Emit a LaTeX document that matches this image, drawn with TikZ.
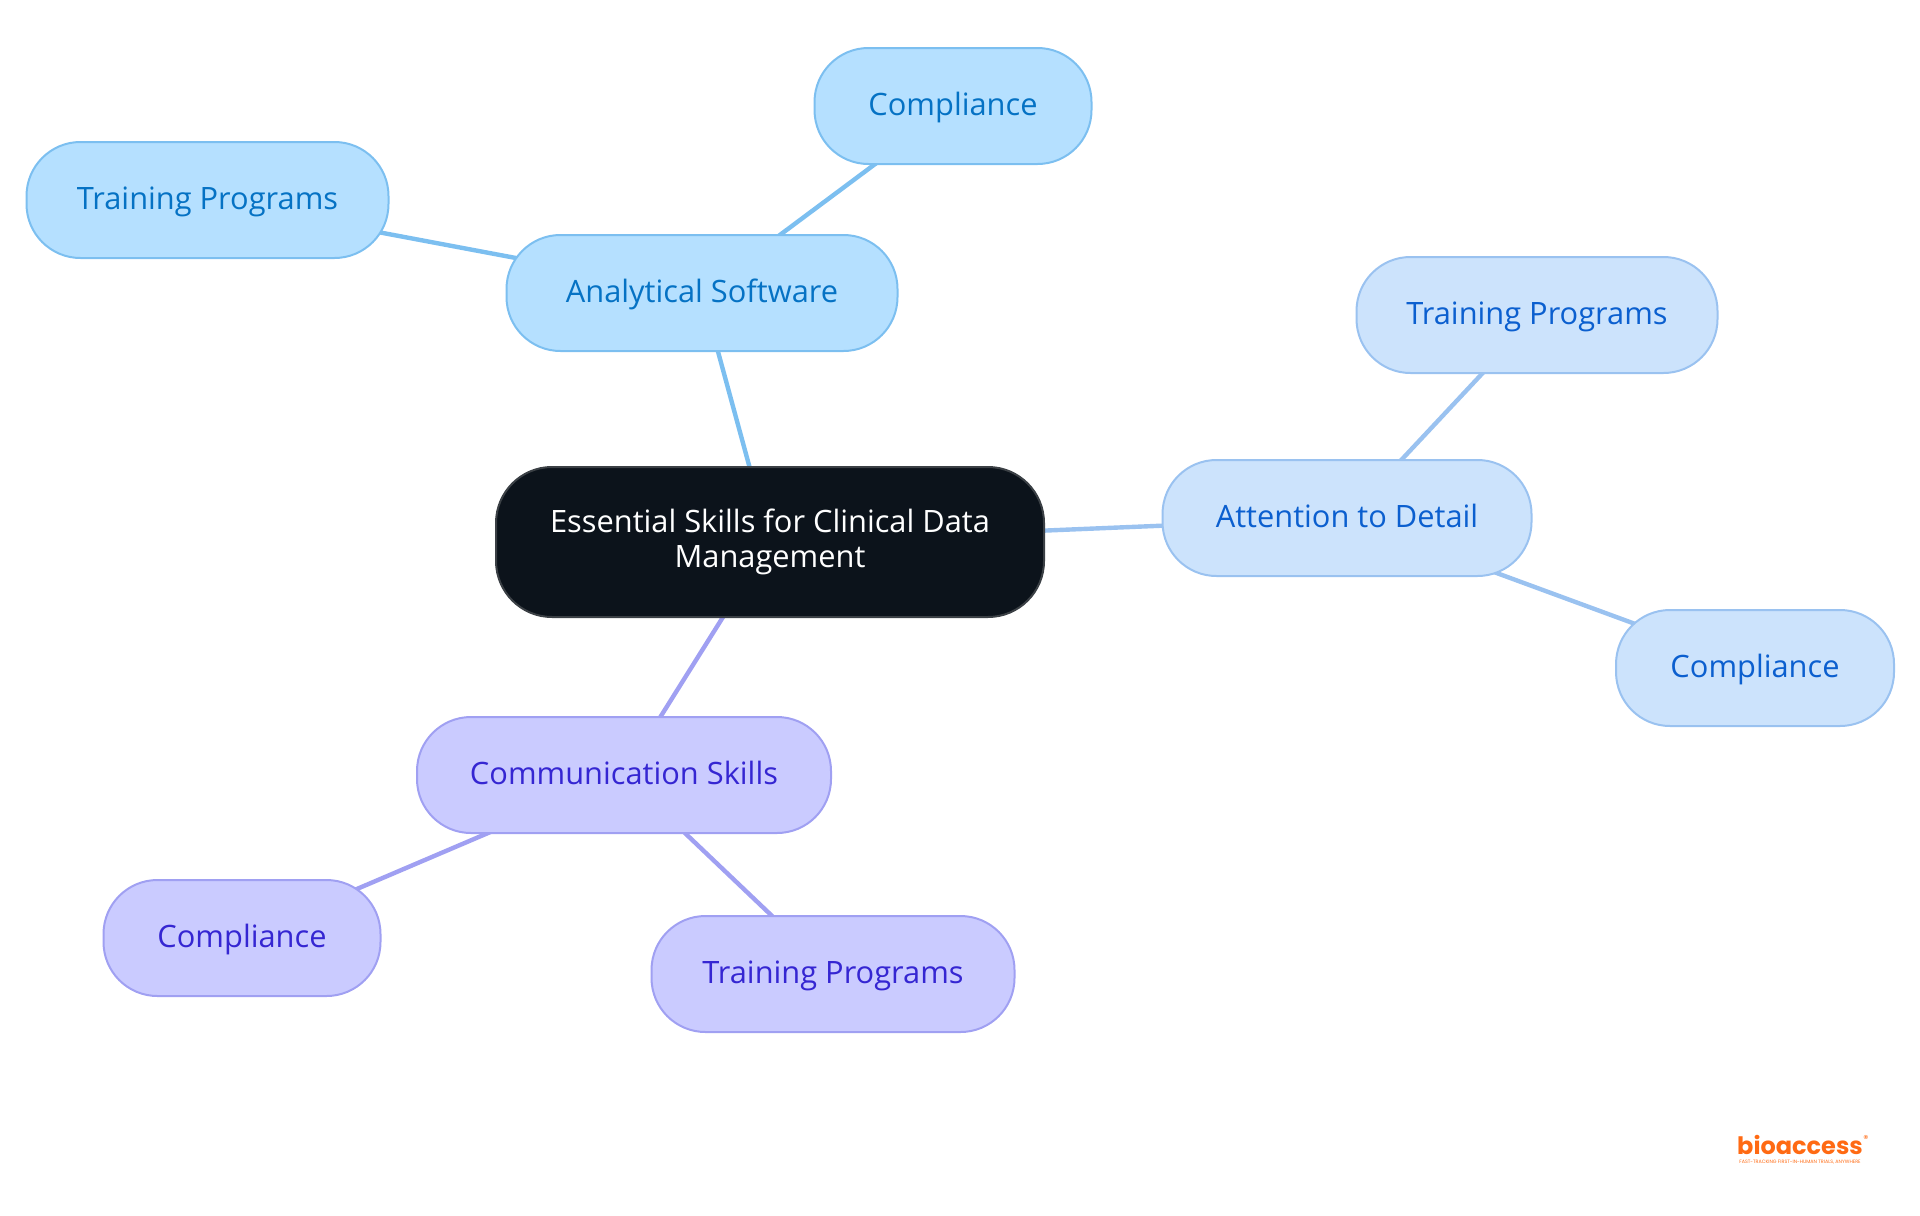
\documentclass[tikz,border=0pt]{standalone}
\usepackage{fontspec}
\setmainfont{Open Sans}
\newfontfamily\logofont{Poppins}
\usetikzlibrary{backgrounds}
\definecolor{rf}{HTML}{0C131B}
\definecolor{rd}{HTML}{3B4045}
\definecolor{af}{HTML}{B5E0FF}
\definecolor{ad}{HTML}{7CBFF0}
\definecolor{at}{HTML}{0572C4}
\definecolor{bf}{HTML}{CCE3FC}
\definecolor{bd}{HTML}{9AC2F0}
\definecolor{bt}{HTML}{0B5FCF}
\definecolor{cf}{HTML}{CACBFF}
\definecolor{cd}{HTML}{A0A0F2}
\definecolor{ct}{HTML}{3526D2}
\definecolor{o}{HTML}{FF6A13}
\tikzstyle{every box}=[draw,line width=1pt,inner sep=0pt,outer sep=0pt,font=\fontsize{15.4}{17.2}\selectfont]
\tikzstyle{leaf}=[every box,rounded corners=27pt,minimum height=58pt,text height=12pt,text depth=2.8pt]
\tikzstyle{abox}=[leaf,fill=af,draw=ad,text=at]
\tikzstyle{bbox}=[leaf,fill=bf,draw=bd,text=bt]
\tikzstyle{cbox}=[leaf,fill=cf,draw=cd,text=ct]
\tikzstyle{rootbox}=[every box,fill=rf,draw=rd,text=white,rounded corners=28pt,minimum height=75pt,minimum width=274pt,align=center]
\tikzstyle{alink}=[draw=ad,line width=2.2pt]
\tikzstyle{blink}=[draw=bd,line width=2.2pt]
\tikzstyle{clink}=[draw=cd,line width=2.2pt]

\begin{document}
\begin{tikzpicture}[x=.5pt,y=-.5pt]
	\useasboundingbox (0,0) rectangle (1920,1215);
	\node[rootbox] (root) at (770,542) {Essential Skills for Clinical Data\\Management};
	\node[abox,minimum width=195.5pt] (soft) at (702,293) {Analytical Software};
	\node[abox,minimum width=138.5pt] (softc) at (953,106) {Compliance};
	\node[abox,minimum width=181pt] (softt) at (207.5,200) {Training Programs};
	\node[bbox,minimum width=184.5pt] (attn) at (1347,518) {Attention to Detail};
	\node[bbox,minimum width=180.5pt] (attnt) at (1537,315) {Training Programs};
	\node[bbox,minimum width=139pt] (attnc) at (1755,668) {Compliance};
	\node[cbox,minimum width=207pt] (comm) at (624,775) {Communication Skills};
	\node[cbox,minimum width=138.5pt] (commc) at (242,938) {Compliance};
	\node[cbox,minimum width=181.5pt] (commt) at (833,974) {Training Programs};
	\node[text=o,font=\logofont\bfseries\fontsize{12}{12}\selectfont,inner sep=0pt] (logo) at (1800,1145) {bioaccess};
	\node[text=o,font=\logofont\fontsize{5}{5}\selectfont,inner sep=0pt] (logor) at (1866,1139) {\textregistered};
	\node[text=o,font=\logofont\fontsize{2.4}{2.4}\selectfont,inner sep=0pt] (logos) at (1800,1162) {FAST-TRACKING FIRST-IN-HUMAN TRIALS, ANYWHERE};
	\begin{pgfonlayer}{background}
	\path
		(root.center)	edge[alink]	(soft.center)
		(soft.center)	edge[alink]	(softc.center)
		(soft.center)	edge[alink]	(softt.center)
		(root.center)	edge[blink]	(attn.center)
		(attn.center)	edge[blink]	(attnt.center)
		(attn.center)	edge[blink]	(attnc.center)
		(root.center)	edge[clink]	(comm.center)
		(comm.center)	edge[clink]	(commc.center)
		(comm.center)	edge[clink]	(commt.center);
	\end{pgfonlayer}
\end{tikzpicture}
\end{document}
